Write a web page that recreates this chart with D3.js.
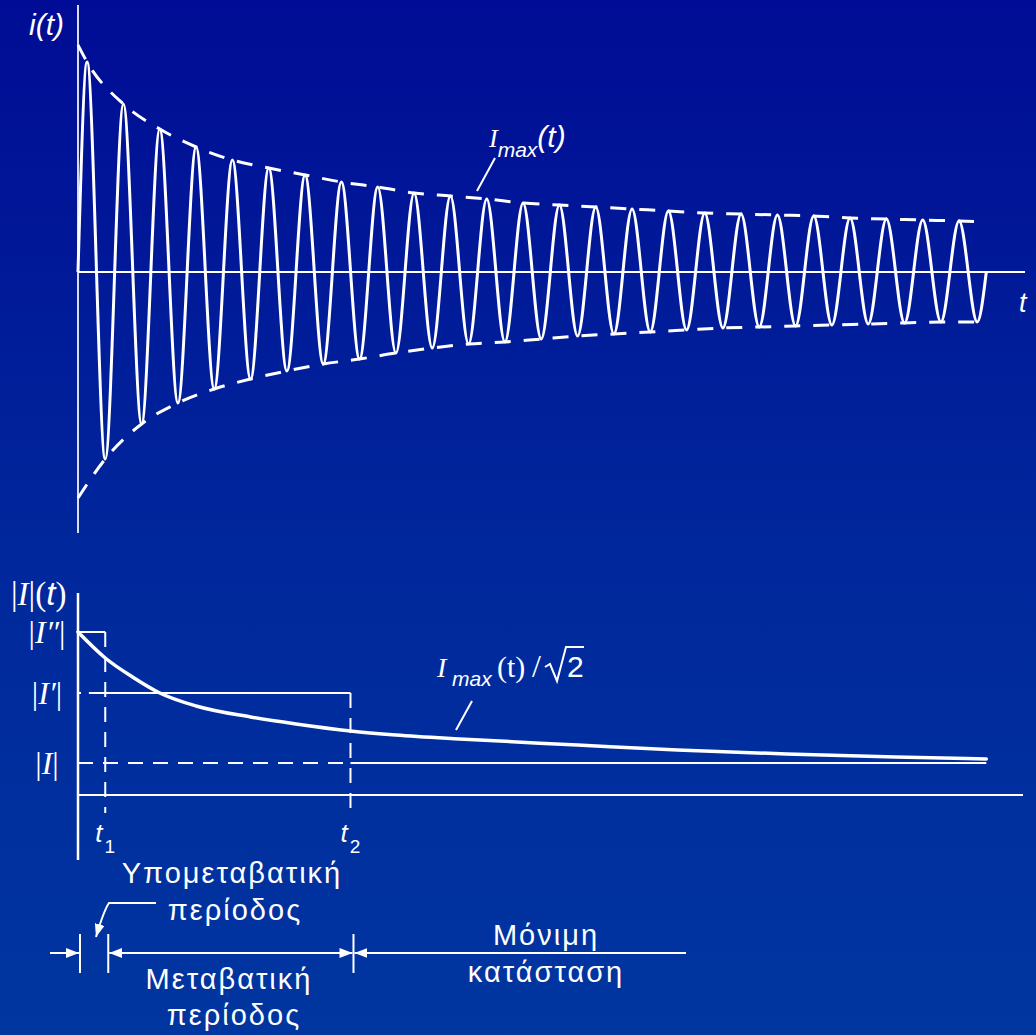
<!DOCTYPE html>
<html lang="el">
<head>
<meta charset="UTF-8">
<script src="https://cdn.jsdelivr.net/npm/d3@7"></script>
<title>Ρεύμα βραχυκύκλωσης</title>
<style>
    html, body {
        margin: 0px;
        padding: 0px;
        background-color: #0022a0;
    }
    svg { display: block; }
    text { fill: #fff; }
    .sans { font-family: "Liberation Sans", Arial, sans-serif; }
    .serif { font-family: "Liberation Serif", "Times New Roman", serif; }
</style>
</head>
<body>
<div id="chart"></div>
<script>

    // time in ms (50 Hz, 20 ms period), amplitudes in the picture's own units
    let periodMs = 20;
    let tEnd = 500;
    let peakAmp = [210, 168, 143, 125, 112, 104, 97, 90, 85, 79, 76, 73, 69, 67, 65, 63, 61, 59, 58, 57, 56, 54, 53, 52, 51];
    let troughAmp = [187, 152, 131, 117, 107, 99, 92, 87, 81, 76, 72, 70, 67, 64, 62, 60, 58, 56, 55, 54, 53, 52, 51, 50, 50];
    let envStart = [227, 226];
    let envEnd = [50, 50];

    // |I|(t) = Imax(t)/sqrt(2)
    let rmsTime = [0, 15, 30, 45, 65, 95, 120, 150, 175, 210, 275, 330, 390, 450, 500];
    let rmsValue = [163, 137, 118, 102, 89, 78, 71, 64, 60, 56, 50, 45, 41, 38, 36];

    let levelNames = ['″', '′', ''];
    let levelValues = [163, 102, 32];
    let t1 = 15, t2 = 150;

    let width = 1036, height = 1035;

    let svg = d3.select('#chart').append('svg').attr('width', width).attr('height', height);

    let defs = svg.append('defs');
    let grad = defs.append('linearGradient').attr('id', 'bg').attr('x1', 0).attr('y1', 0).attr('x2', 0).attr('y2', 1);
    grad.append('stop').attr('offset', '0%').attr('stop-color', '#000c95');
    grad.append('stop').attr('offset', '55%').attr('stop-color', '#00289c');
    grad.append('stop').attr('offset', '100%').attr('stop-color', '#0036a0');

    defs.append('marker')
        .attr('id', 'arrow')
        .attr('viewBox', '0 0 13 10')
        .attr('refX', 13).attr('refY', 5)
        .attr('markerWidth', 13).attr('markerHeight', 10)
        .attr('markerUnits', 'userSpaceOnUse')
        .attr('orient', 'auto-start-reverse')
        .append('path').attr('d', 'M0,0 L13,5 L0,10 Z').attr('fill', '#fff');

    svg.append('rect').attr('width', width).attr('height', height).attr('fill', 'url(#bg)');

    let x = d3.scaleLinear().domain([0, tEnd]).range([78, 986.3]);
    let yTop = d3.scaleLinear().domain([-230, 230]).range([502, 42]);
    let yBot = d3.scaleLinear().domain([0, 170]).range([795, 625]);

    // ---------- top chart : i(t) ----------
    let wave = [[0, 0]];
    peakAmp.forEach((a, i) => {
        wave.push([periodMs * i + periodMs / 4, a]);
        wave.push([periodMs * i + 3 * periodMs / 4, -troughAmp[i]]);
    });
    wave.push([tEnd, 0]);

    let upper = [[0, envStart[0]]].concat(peakAmp.map((a, i) => [periodMs * i + periodMs / 4, a]), [[tEnd, envEnd[0]]]);
    let lower = [[0, -envStart[1]]].concat(troughAmp.map((a, i) => [periodMs * i + 3 * periodMs / 4, -a]), [[tEnd, -envEnd[1]]]);

    let lineTop = d3.line().x(d => x(d[0])).y(d => yTop(d[1])).curve(d3.curveMonotoneX);

    svg.append('line')
        .attr('x1', x(0)).attr('x2', x(0)).attr('y1', 5).attr('y2', 533)
        .attr('stroke', '#fff').attr('stroke-opacity', 0.85).attr('stroke-width', 2);
    svg.append('line')
        .attr('x1', x(0)).attr('x2', 1025).attr('y1', yTop(0)).attr('y2', yTop(0))
        .attr('stroke', '#fff').attr('stroke-width', 2);

    svg.append('path').datum(wave)
        .attr('d', lineTop)
        .attr('fill', 'none').attr('stroke', '#fff').attr('stroke-width', 3);

    svg.selectAll('path.env')
        .data([upper, lower])
        .join('path')
        .attr('class', 'env')
        .attr('d', lineTop)
        .attr('fill', 'none').attr('stroke', '#fff').attr('stroke-width', 3)
        .attr('stroke-dasharray', '16,13');

    svg.append('text').attr('class', 'sans').attr('x', 29).attr('y', 35)
        .attr('font-size', 30).attr('font-style', 'italic').text('i(t)');
    svg.append('text').attr('class', 'sans').attr('x', 1019).attr('y', 312)
        .attr('font-size', 27).attr('font-style', 'italic').text('t');

    let imax = svg.append('text').attr('x', 489).attr('y', 147);
    imax.append('tspan').attr('class', 'serif').attr('font-size', 26).attr('font-style', 'italic').text('I');
    imax.append('tspan').attr('class', 'sans').attr('font-size', 21).attr('font-style', 'italic').attr('dy', 10).text('max');
    imax.append('tspan').attr('class', 'sans').attr('font-size', 30).attr('font-style', 'italic').attr('dy', -10).text('(t)');
    svg.append('line').attr('x1', 495).attr('y1', 158).attr('x2', 477).attr('y2', 191)
        .attr('stroke', '#fff').attr('stroke-width', 2);

    // ---------- bottom chart : |I|(t) ----------
    svg.append('line')
        .attr('x1', x(0)).attr('x2', x(0)).attr('y1', 593).attr('y2', 860)
        .attr('stroke', '#fff').attr('stroke-width', 2.5);
    svg.append('line')
        .attr('x1', x(0)).attr('x2', 1023).attr('y1', yBot(0)).attr('y2', yBot(0))
        .attr('stroke', '#fff').attr('stroke-width', 2);

    let lv = levelValues;
    // |I''| up to t1
    svg.append('line').attr('x1', x(0)).attr('x2', x(t1)).attr('y1', yBot(lv[0])).attr('y2', yBot(lv[0]))
        .attr('stroke', '#fff').attr('stroke-width', 2);
    // |I'| up to t2
    svg.append('line').attr('x1', x(0)).attr('x2', x(0) + 3).attr('y1', yBot(lv[1])).attr('y2', yBot(lv[1]))
        .attr('stroke', '#fff').attr('stroke-width', 2);
    svg.append('line').attr('x1', x(6)).attr('x2', x(t2)).attr('y1', yBot(lv[1])).attr('y2', yBot(lv[1]))
        .attr('stroke', '#fff').attr('stroke-width', 2);
    // |I| dashed until t2, solid after
    svg.append('line').attr('x1', x(0)).attr('x2', x(t2)).attr('y1', yBot(lv[2])).attr('y2', yBot(lv[2]))
        .attr('stroke', '#fff').attr('stroke-width', 2).attr('stroke-dasharray', '15,10');
    svg.append('line').attr('x1', x(t2)).attr('x2', x(tEnd)).attr('y1', yBot(lv[2])).attr('y2', yBot(lv[2]))
        .attr('stroke', '#fff').attr('stroke-width', 2);
    // t1, t2 markers
    svg.append('line').attr('x1', x(t1)).attr('x2', x(t1)).attr('y1', yBot(lv[0])).attr('y2', 813)
        .attr('stroke', '#fff').attr('stroke-width', 2).attr('stroke-dasharray', '15,10');
    svg.append('line').attr('x1', x(t2)).attr('x2', x(t2)).attr('y1', yBot(lv[1])).attr('y2', 813)
        .attr('stroke', '#fff').attr('stroke-width', 2).attr('stroke-dasharray', '15,10');

    let lineBot = d3.line().x((d, i) => x(rmsTime[i])).y(d => yBot(d)).curve(d3.curveMonotoneX);
    svg.append('path').datum(rmsValue)
        .attr('d', lineBot)
        .attr('fill', 'none').attr('stroke', '#fff').attr('stroke-width', 3.5).attr('stroke-linecap', 'round');

    // axis title |I|(t)
    let it = svg.append('text').attr('x', 11).attr('y', 605).attr('font-size', 33);
    it.append('tspan').attr('class', 'serif').text('|');
    it.append('tspan').attr('class', 'serif').attr('font-style', 'italic').text('I');
    it.append('tspan').attr('class', 'serif').text('|(');
    it.append('tspan').attr('class', 'sans').attr('font-style', 'italic').text('t');
    it.append('tspan').attr('class', 'serif').text(')');

    // level labels
    svg.selectAll('text.level')
        .data(levelValues)
        .join('text')
        .attr('class', 'level serif')
        .attr('x', 47)
        .attr('y', d => yBot(d) + 11)
        .attr('font-size', 32)
        .attr('text-anchor', 'middle')
        .each(function(d, i) {
            let t = d3.select(this);
            t.append('tspan').text('|');
            t.append('tspan').attr('font-style', 'italic').text('I' + levelNames[i]);
            t.append('tspan').text('|');
        });

    // t1, t2 labels
    [[t1, '1'], [t2, '2']].forEach(([tv, sub]) => {
        let g = svg.append('text').attr('class', 'sans').attr('x', x(tv) - 10).attr('y', 842);
        g.append('tspan').attr('font-size', 26).attr('font-style', 'italic').text('t');
        g.append('tspan').attr('font-size', 19).attr('dx', 2).attr('dy', 11).text(sub);
    });

    // Imax(t)/sqrt2 label
    svg.append('text').attr('class', 'serif').attr('x', 437).attr('y', 677)
        .attr('font-size', 28).attr('font-style', 'italic').text('I');
    svg.append('text').attr('class', 'sans').attr('x', 452).attr('y', 686)
        .attr('font-size', 21).attr('font-style', 'italic').text('max');
    svg.append('text').attr('class', 'serif').attr('x', 497).attr('y', 677)
        .attr('font-size', 30).text('(t)');
    svg.append('text').attr('class', 'serif').attr('x', 532).attr('y', 677)
        .attr('font-size', 32).text('/');
    svg.append('path').attr('d', 'M545,667 L550,664 L557,681 L566,647 L584,647')
        .attr('fill', 'none').attr('stroke', '#fff').attr('stroke-width', 2);
    svg.append('text').attr('class', 'sans').attr('x', 567).attr('y', 677)
        .attr('font-size', 30).text('2');
    svg.append('line').attr('x1', 472).attr('y1', 701).attr('x2', 456).attr('y2', 730)
        .attr('stroke', '#fff').attr('stroke-width', 2);

    // ---------- period annotation ----------
    let rowY = 953;
    let xs0 = x(0) + 2, xs1 = x(t1) + 3, xs2 = x(t2) + 3;
    [xs0, xs1, xs2].forEach(xx => {
        svg.append('line').attr('x1', xx).attr('x2', xx).attr('y1', rowY - 19).attr('y2', rowY + 20)
            .attr('stroke', '#fff').attr('stroke-width', 2);
    });
    svg.append('line').attr('x1', 50).attr('x2', xs0 - 1).attr('y1', rowY).attr('y2', rowY)
        .attr('stroke', '#fff').attr('stroke-width', 2).attr('marker-end', 'url(#arrow)');
    svg.append('line').attr('x1', xs1 + 1).attr('x2', xs2 - 1).attr('y1', rowY).attr('y2', rowY)
        .attr('stroke', '#fff').attr('stroke-width', 2)
        .attr('marker-start', 'url(#arrow)').attr('marker-end', 'url(#arrow)');
    svg.append('line').attr('x1', xs2 + 1).attr('x2', 686).attr('y1', rowY).attr('y2', rowY)
        .attr('stroke', '#fff').attr('stroke-width', 2).attr('marker-start', 'url(#arrow)');
    svg.append('path').attr('d', 'M156,903 L109,903 Q104,910 96,937')
        .attr('fill', 'none').attr('stroke', '#fff').attr('stroke-width', 2).attr('marker-end', 'url(#arrow)');

    let notes = [
        ['Υπομεταβατική', 231, 883],
        ['περίοδος', 234, 920],
        ['Μεταβατική', 228, 989],
        ['περίοδος', 233, 1025],
        ['Μόνιμη', 545, 945],
        ['κατάσταση', 545, 982]
    ];
    svg.selectAll('text.note')
        .data(notes)
        .join('text')
        .attr('class', 'note sans')
        .attr('x', d => d[1] + 1).attr('y', d => d[2])
        .attr('text-anchor', 'middle')
        .attr('font-size', 29)
        .attr('letter-spacing', 2)
        .text(d => d[0]);

</script>
</body>
</html>
